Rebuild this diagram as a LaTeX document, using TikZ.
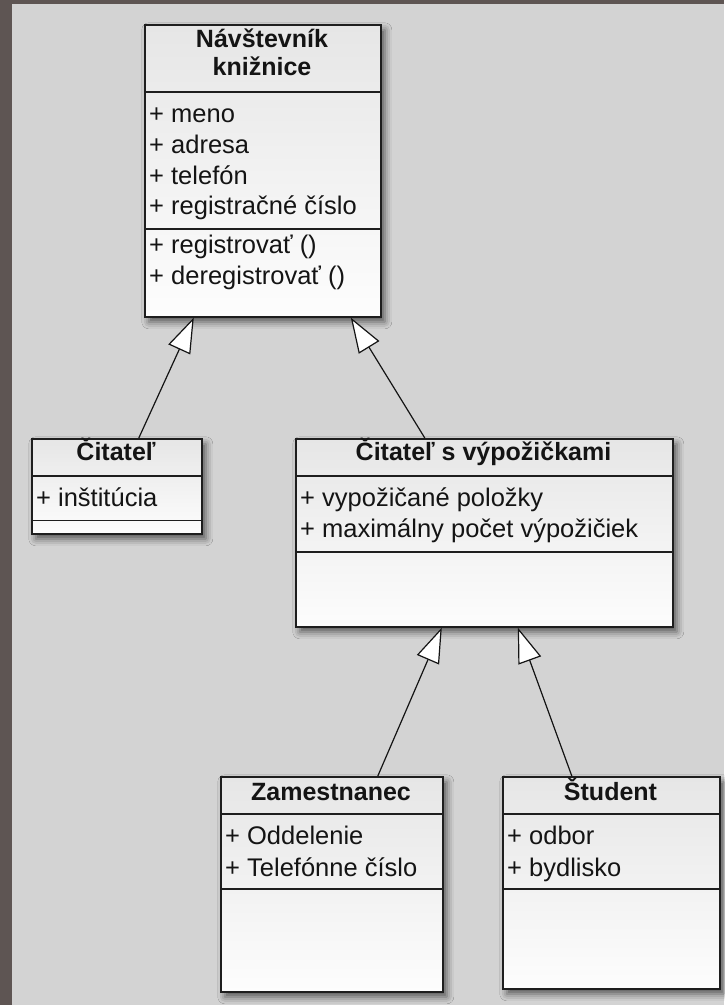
\documentclass[tikz,border=0pt]{standalone}
\usepackage{fontspec}
\setmainfont{Liberation Sans}
\usetikzlibrary{arrows.meta,shadows.blur}

\definecolor{pagebg}{HTML}{D3D3D3}
\definecolor{framedark}{HTML}{5E5553}
\definecolor{boxline}{HTML}{1E1E1E}
\definecolor{ink}{HTML}{141414}
\definecolor{boxtop}{HTML}{E6E6E6}
\definecolor{boxbot}{HTML}{FDFDFD}

\newcommand\clsTitleFont{\bfseries\fontsize{25}{28}\selectfont}
\newcommand\clsMemberFont{\fontsize{25.5}{31}\selectfont}

\tikzset{
  classbox/.style={rectangle, draw=boxline, line width=1.6pt, anchor=north west,
    inner sep=0pt, top color=boxtop, bottom color=boxbot,
    blur shadow={shadow xshift=4pt, shadow yshift=-5pt, shadow blur radius=7pt,
      shadow opacity=60}},
  divider/.style={draw=boxline, line width=1.3pt},
  clstitle/.style={anchor=base, inner sep=0pt, font=\clsTitleFont, text=ink},
  clsmember/.style={anchor=base west, inner sep=0pt, font=\clsMemberFont, text=ink},
  gen/.style={draw=ink, line width=1.2pt,
    -{Triangle[length=35pt, width=24pt, fill=white, line width=1.2pt]}}
}

\begin{document}
\begin{tikzpicture}[x=1pt, y=-1pt]
\useasboundingbox (0,0) rectangle (724,1005);
% page background and dark frame on the top and left
\fill[pagebg] (0,0) rectangle (724,1005);
\fill[framedark] (0,0) rectangle (724,4.3);
\fill[framedark] (0,0) rectangle (12,1005);

% --- Návštevník knižnice ---
\node[classbox, minimum width=236pt, minimum height=292pt] (nav) at (144,24) {};
\draw[divider] (144,92) -- (380,92);
\draw[divider] (144,229) -- (380,229);
\node[clstitle] (nav-t1) at (262,47) {Návštevník};
\node[clstitle] (nav-t2) at (262,75) {knižnice};
\node[clsmember] (nav-a1) at (149,122) {+ meno};
\node[clsmember] (nav-a2) at (149,153) {+ adresa};
\node[clsmember] (nav-a3) at (149,184) {+ telefón};
\node[clsmember] (nav-a4) at (149,214) {+ registračné číslo};
\node[clsmember] (nav-m1) at (149,253) {+ registrovať ()};
\node[clsmember] (nav-m2) at (149,284) {+ deregistrovať ()};

% --- Čitateľ ---
\node[classbox, minimum width=170pt, minimum height=95pt] (cit) at (31,438) {};
\draw[divider] (31,476) -- (201,476);
\draw[divider] (31,520.5) -- (201,520.5);
\node[clstitle] (cit-t) at (116,460) {Čitateľ};
\node[clsmember] (cit-a1) at (36,506) {+ inštitúcia};

% --- Čitateľ s výpožičkami ---
\node[classbox, minimum width=377pt, minimum height=188pt] (csv) at (295,438) {};
\draw[divider] (295,476) -- (672,476);
\draw[divider] (295,552) -- (672,552);
\node[clstitle] (csv-t) at (483.5,460) {Čitateľ s výpožičkami};
\node[clsmember] (csv-a1) at (300,506) {+ vypožičané položky};
\node[clsmember] (csv-a2) at (300,537) {+ maximálny počet výpožičiek};

% --- Zamestnanec ---
\node[classbox, minimum width=222pt, minimum height=215pt] (zam) at (220,776) {};
\draw[divider] (220,814) -- (442,814);
\draw[divider] (220,889) -- (442,889);
\node[clstitle] (zam-t) at (331,800) {Zamestnanec};
\node[clsmember] (zam-a1) at (225,844) {+ Oddelenie};
\node[clsmember] (zam-a2) at (225,876) {+ Telefónne číslo};

% --- Študent ---
\node[classbox, minimum width=217pt, minimum height=212pt] (stu) at (502,776) {};
\draw[divider] (502,814) -- (719,814);
\draw[divider] (502,889) -- (719,889);
\node[clstitle] (stu-t) at (610.5,800) {Študent};
\node[clsmember] (stu-a1) at (507,844) {+ odbor};
\node[clsmember] (stu-a2) at (507,876) {+ bydlisko};

% --- generalisations ---
\draw[gen] ([xshift=22pt]cit.north) -- ([xshift=-69pt]nav.south);
\draw[gen] ([xshift=-59.5pt]csv.north) -- ([xshift=88pt]nav.south);
\draw[gen] ([xshift=46pt]zam.north) -- ([xshift=-42.5pt]csv.south);
\draw[gen] ([xshift=-39.5pt]stu.north) -- ([xshift=33.5pt]csv.south);
\end{tikzpicture}
\end{document}
